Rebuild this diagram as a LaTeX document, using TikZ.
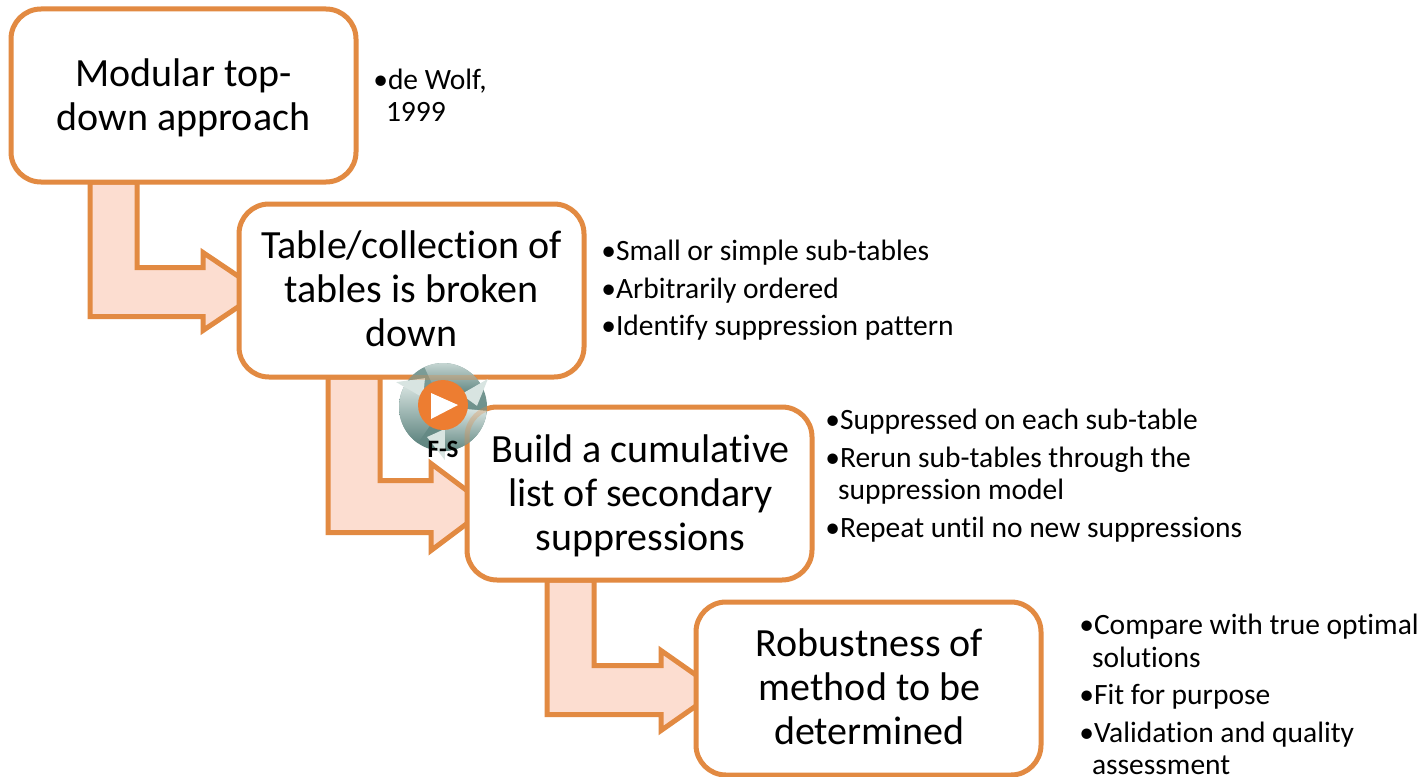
\documentclass[tikz,border=0pt]{standalone}
\usepackage{fontspec}
\setmainfont[RawFeature=-liga]{Carlito}
\usetikzlibrary{calc}
\definecolor{edgeor}{HTML}{E28A42}
\definecolor{fillor}{HTML}{FCDDD0}
\definecolor{playor}{HTML}{ED7D31}
\definecolor{tealdk}{HTML}{5F8580}
\definecolor{tealmd}{HTML}{7E9E99}
\definecolor{teallt}{HTML}{D8E4E1}
\pgfdeclarelayer{bg}
\pgfsetlayers{bg,main}
\tikzset{
  x=1pt,y=-1pt,
  stepbox/.style={draw=edgeor,line width=5pt,fill=white,rounded corners=30pt,minimum width=345pt,minimum height=173pt,inner sep=0pt,outer sep=0pt,align=center,font=\fontsize{40}{44}\selectfont,anchor=center},
  bent/.style={draw=edgeor,line width=5pt,fill=fillor,miter limit=10},
  notes/.style={anchor=north west,inner sep=0pt,outer sep=0pt,align=left,font=\fontsize{29.5}{32}\selectfont,text=black}
}
% text block of a step box, nudged: #1 right by half, #2 down by half, #3 the lines
\newcommand\boxlines[3]{\vbox{\kern#2\hbox{\hspace*{#1}\begin{tabular}{@{}c@{}}#3\end{tabular}}}}
% #1 from, #2 to, #3 left, #4 right (from #1.south west), #5 notch y, #6 lower y, #7 head x, #8 head top, #9 head bottom (from #2.west)
\newcommand\bentarrow[9]{%
  \coordinate (sl) at ($(#1.south west)+(#3,0)$);
  \coordinate (sr) at ($(#1.south west)+(#4,0)$);
  \coordinate (nt) at ($(#2.west)+(#7,#5)$);
  \coordinate (lw) at ($(#2.west)+(#7,#6)$);
  \draw[bent] (sl) -- (sl |- lw) -- (lw) -- ($(#2.west)+(#7,#9)$) -- ($(#2.west)+(22,{(#8+#9)/2})$) -- ($(#2.west)+(#7,#8)$) -- (nt) -- (sr |- nt) -- (sr) -- cycle;}
% one of the three arrows of the icon; #1 = rotation
\newcommand\iconarrow[1]{%
  \begin{scope}[shift={(ic)},rotate=#1]
    \shade[top color=teallt,bottom color=tealdk]
      (125:44) arc[start angle=125,end angle=212,radius=44] -- (205:22) arc[start angle=205,end angle=125,radius=22] -- cycle;
    \fill[teallt] (208:53) -- (238:34) -- (205:22) -- cycle;
  \end{scope}}
\begin{document}
\begin{tikzpicture}
\useasboundingbox (0,0) rectangle (1420,776);
\begin{pgfonlayer}{bg}
\fill[white] (0,0) rectangle (1420,776);
\end{pgfonlayer}
\node[stepbox] (a) at (183.5,95.5) {\boxlines{0pt}{8pt}{Modular top-\\down approach}};
\node[stepbox] (b) at (411.5,290.5) {\boxlines{0pt}{6pt}{Table/collection of\\tables is broken\\down}};
\node[stepbox] (c) at (639.5,493.5) {\boxlines{2pt}{8pt}{Build a cumulative\\list of secondary\\suppressions}};
\node[stepbox] (d) at (868.5,688.5) {\boxlines{2pt}{6pt}{Robustness of\\method to be\\determined}};
\begin{pgfonlayer}{bg}
\bentarrow{a}{b}{79}{126}{-23}{26}{-36}{-38}{40}
\bentarrow{b}{c}{89}{141}{-13}{39}{-36}{-30}{57}
\bentarrow{c}{d}{80}{127}{-23}{26}{-35}{-38}{42}
\end{pgfonlayer}
\node[notes] (n1) at (388,69) {\llap{•}de Wolf,\\\hspace*{-2pt}1999};
\node[notes] (n2a) at (616,240) {\llap{•}Small or simple sub-tables};
\node[notes] (n2b) at (616,278) {\llap{•}Arbitrarily ordered};
\node[notes] (n2c) at (616,315) {\llap{•}Identify suppression pattern};
\node[notes] (n3a) at (840,409) {\llap{•}Suppressed on each sub-table};
\node[notes] (n3b) at (840,447) {\llap{•}Rerun sub-tables through the\\\hspace*{-2pt}suppression model};
\node[notes] (n3c) at (840,517) {\llap{•}Repeat until no new suppressions};
\node[notes] (n4a) at (1094,614) {\llap{•}Compare with true optimal\\[1.5pt]\hspace*{-2pt}solutions};
\node[notes] (n4b) at (1094,684) {\llap{•}Fit for purpose};
\node[notes] (n4c) at (1094,722) {\llap{•}Validation and quality\\\hspace*{-2pt}assessment};
% media icon
\coordinate (ic) at (443,407);
\shade[top color=tealmd,bottom color=tealdk] (ic) circle[radius=44];
\iconarrow{0}
\iconarrow{120}
\iconarrow{240}
\begin{scope}
  \clip (ic) circle[radius=44];
  \draw[edgeor,line width=5pt,opacity=.3] (b.south west) -- (b.south east);
  \draw[edgeor,line width=5pt,opacity=.3,rounded corners=30pt] (c.south west) -- (c.north west) -- (c.north east);
\end{scope}
\fill[playor] (443,405) circle[radius=25];
\fill[white] (431,393) -- (458,405) -- (431,419) -- cycle;
\node[inner sep=0pt,font=\bfseries\fontsize{25}{27}\selectfont] (fs) at (443,449) {F-S};
\end{tikzpicture}
\end{document}
